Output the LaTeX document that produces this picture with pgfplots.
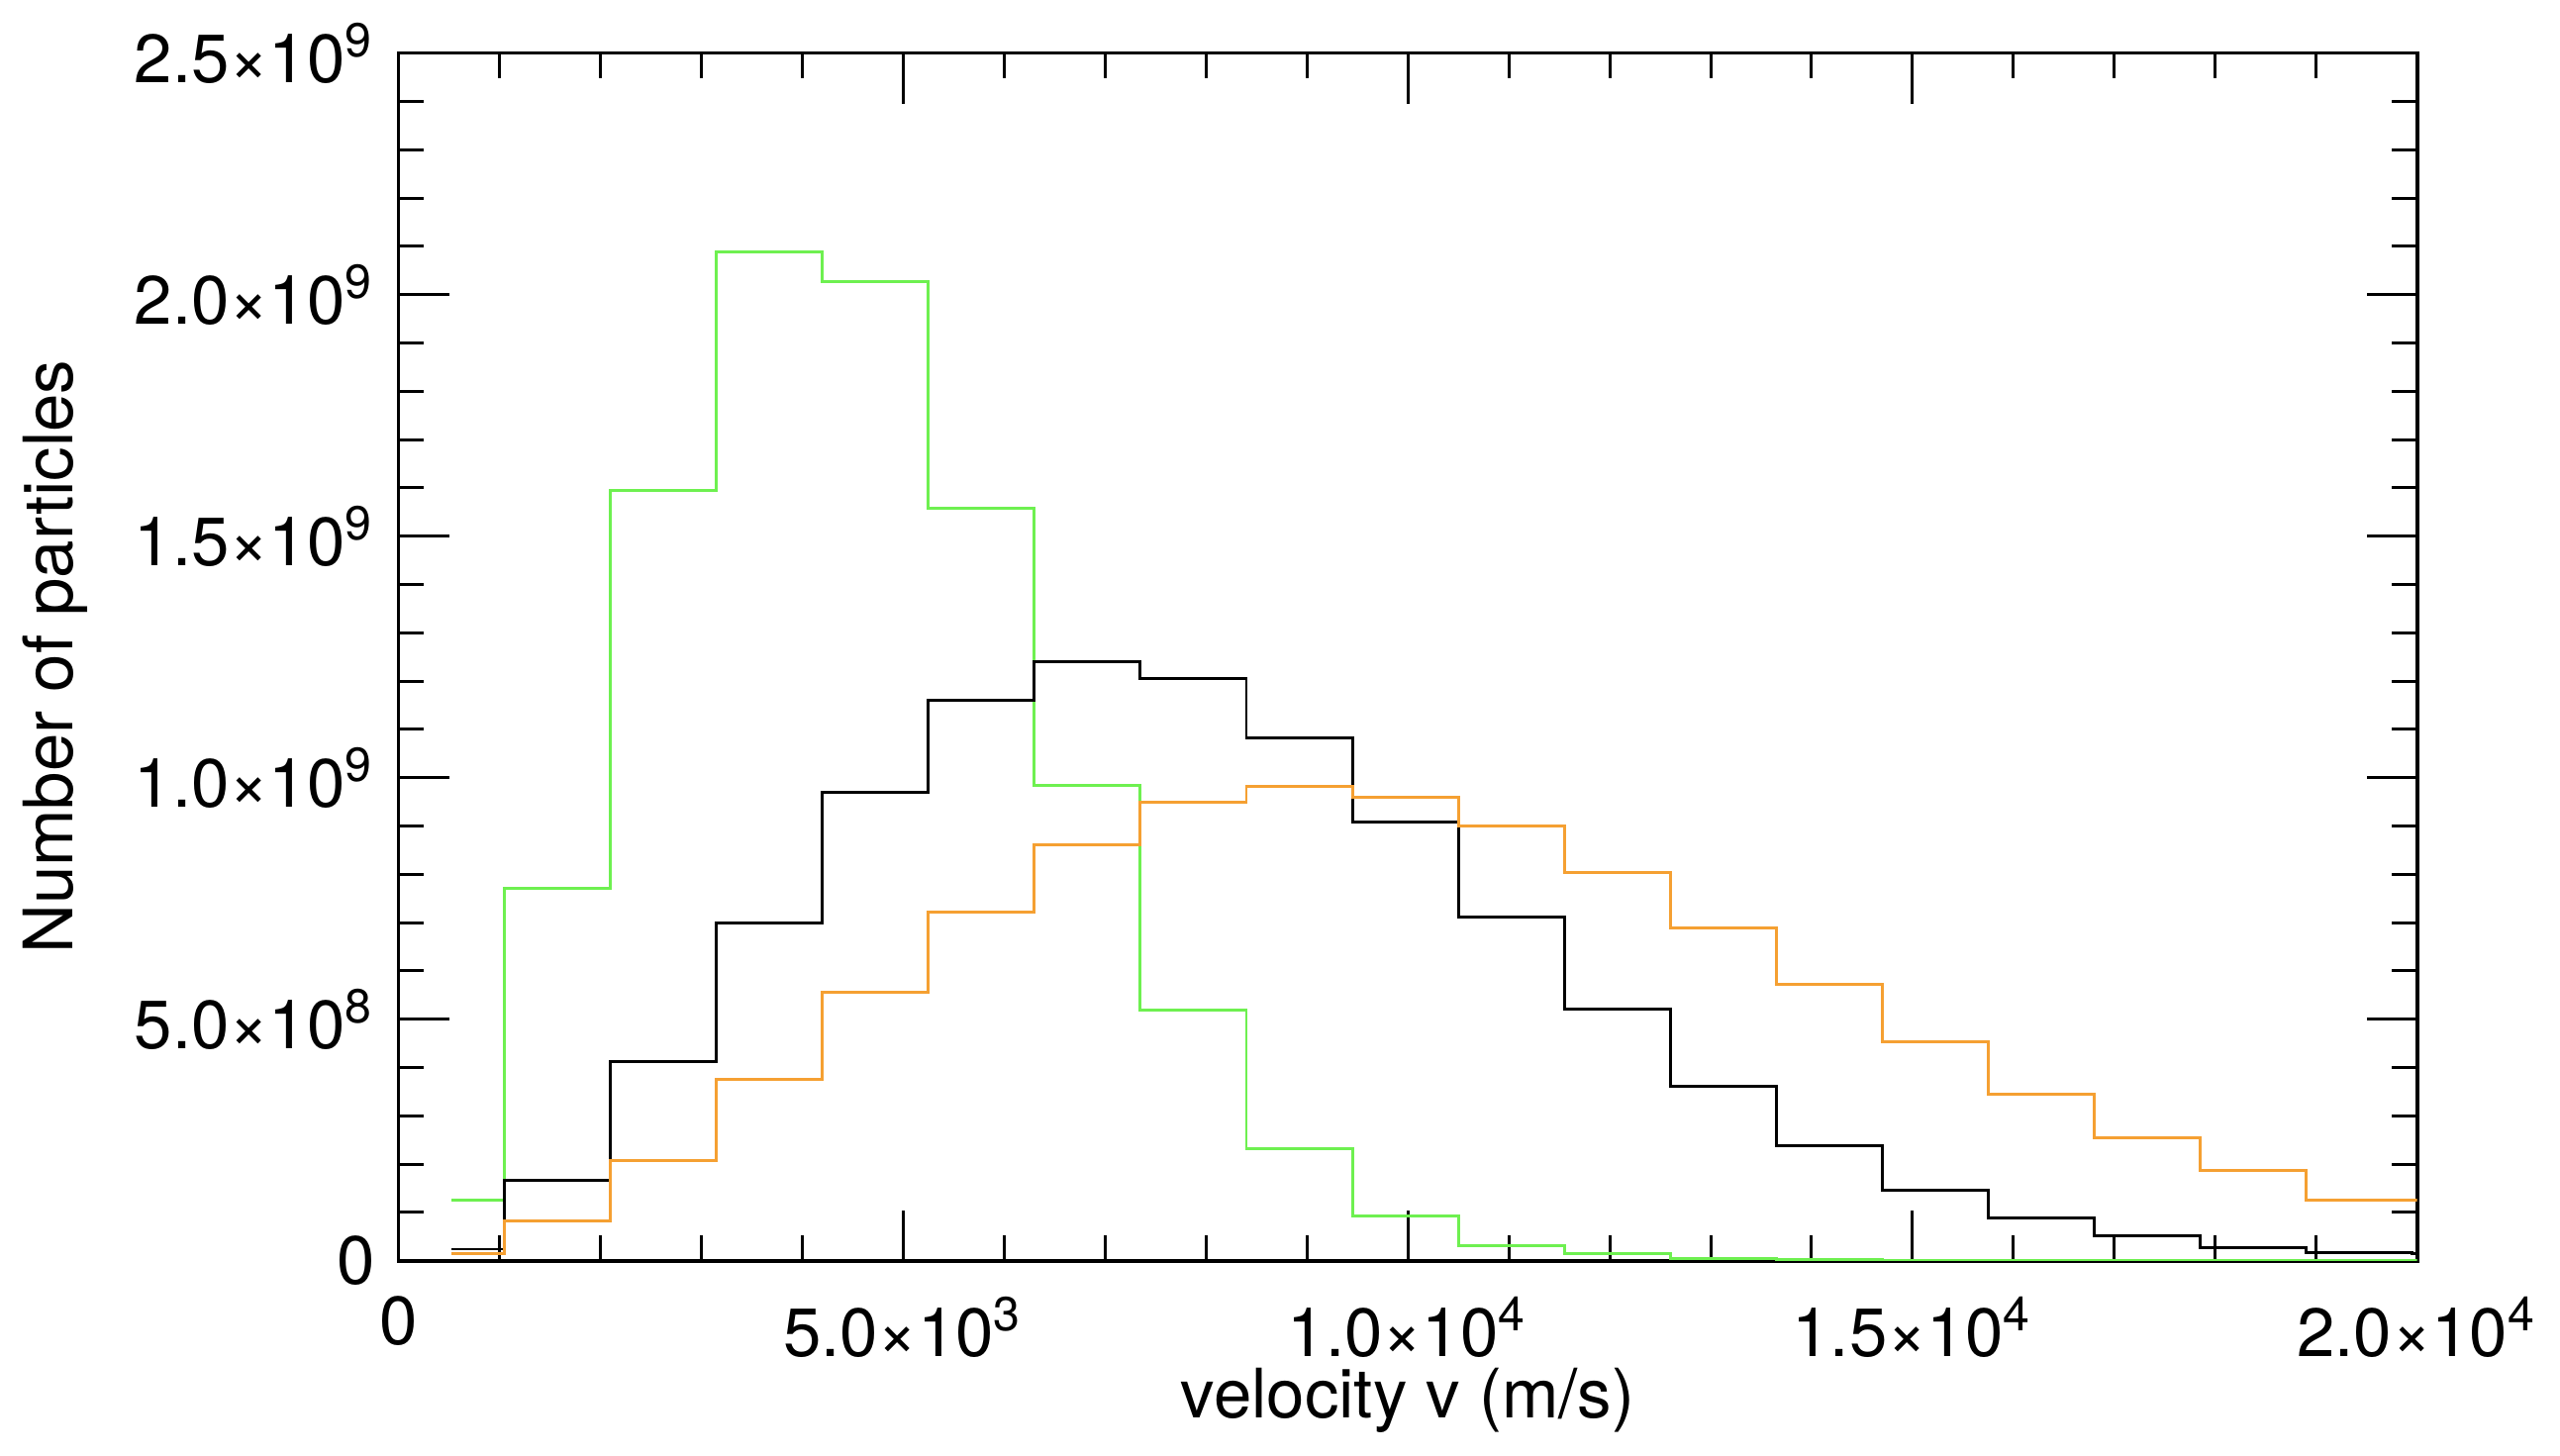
\documentclass[border=0pt]{standalone}
\usepackage{pgfplots}
\pgfplotsset{compat=1.18}
\usepackage{fontspec}
\setmainfont{TeX Gyre Heros}
\newcommand{\sci}[2]{#1×10\textsuperscript{#2}}
\begin{document}
\fontsize{11.5}{13}\selectfont
\begin{tikzpicture}
\begin{axis}[
  width=11.95cm, height=7.15cm, scale only axis,
  xmin=0, xmax=20000, ymin=0, ymax=2.5e9,
  xtick={0,5000,10000,15000,20000},
  xticklabels={0,\sci{5.0}{3},\sci{1.0}{4},\sci{1.5}{4},\sci{2.0}{4}},
  ytick={0,5e8,1e9,1.5e9,2e9,2.5e9},
  yticklabels={0,\sci{5.0}{8},\sci{1.0}{9},\sci{1.5}{9},\sci{2.0}{9},\sci{2.5}{9}},
  minor x tick num=4, minor y tick num=4,
  tick align=inside, major tick length=0.3cm, minor tick length=0.15cm,
  tick style={black, line width=0.5pt},
  xticklabel style={yshift=-2pt},
  xlabel={velocity v (m/s)}, ylabel={Number of particles},
  xlabel style={yshift=6pt},
  scaled ticks=false,
  axis line style={line width=0.6pt},
  clip=true,
]
\addplot[const plot, line width=0.5pt, color={rgb,255:red,110;green,240;blue,80}] coordinates {
(525,0.126e9)(1050,0.77e9)(2100,1.594e9)(3150,2.088e9)(4200,2.027e9)(5250,1.557e9)(6300,0.984e9)(7350,0.518e9)(8400,0.232e9)(9450,0.092e9)(10500,0.031e9)(11550,0.014e9)(12600,0.004e9)(13650,0.002e9)(14700,0.001e9)(15750,0.0005e9)(16800,0.0003e9)(17850,0.0002e9)(18900,0.0001e9)(19950,0.0001e9)(20000,0.0001e9)};
\addplot[const plot, black, line width=0.5pt] coordinates {
(525,0.024e9)(1050,0.167e9)(2100,0.412e9)(3150,0.70e9)(4200,0.97e9)(5250,1.16e9)(6300,1.24e9)(7350,1.206e9)(8400,1.083e9)(9450,0.909e9)(10500,0.712e9)(11550,0.521e9)(12600,0.361e9)(13650,0.238e9)(14700,0.146e9)(15750,0.089e9)(16800,0.051e9)(17850,0.027e9)(18900,0.017e9)(19950,0.014e9)(20000,0.014e9)};
\addplot[const plot, color={rgb,255:red,245;green,160;blue,50}, line width=0.5pt] coordinates {
(525,0.014e9)(1050,0.082e9)(2100,0.208e9)(3150,0.375e9)(4200,0.555e9)(5250,0.722e9)(6300,0.862e9)(7350,0.95e9)(8400,0.981e9)(9450,0.96e9)(10500,0.899e9)(11550,0.804e9)(12600,0.688e9)(13650,0.572e9)(14700,0.453e9)(15750,0.344e9)(16800,0.255e9)(17850,0.187e9)(18900,0.126e9)(19950,0.126e9)(20000,0.126e9)};
\end{axis}
\end{tikzpicture}
\end{document}
